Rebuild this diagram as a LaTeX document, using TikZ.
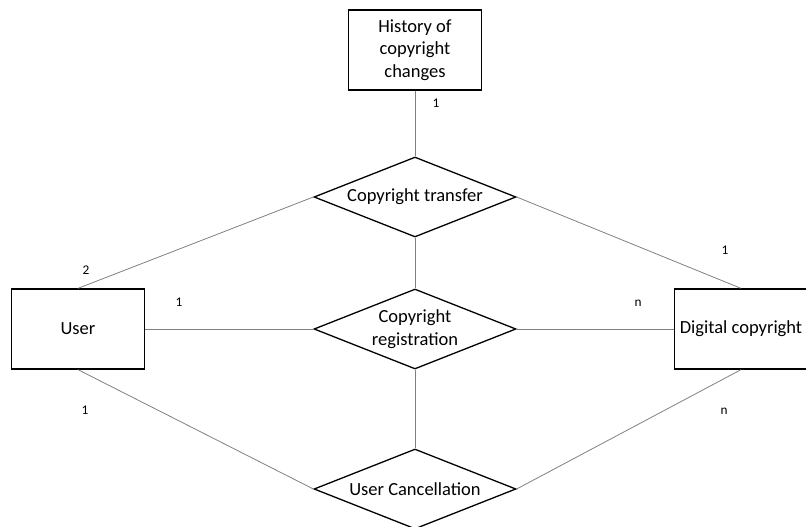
\documentclass[tikz,border=0pt]{standalone}
\usepackage{fontspec}
\setmainfont{Carlito}
\usetikzlibrary{shapes.geometric}

\begin{document}
\begin{tikzpicture}[x=1pt, y=-1pt,
  every node/.style={font=\fontsize{18.5}{22.5}\selectfont},
  entity/.style={draw, line width=1.3pt, minimum width=133pt,
                 minimum height=80pt, align=center, inner sep=2pt},
  relation/.style={draw, diamond, line width=1.3pt, aspect=2.5,
                   minimum width=202pt, minimum height=80pt,
                   align=center, inner sep=0pt},
  link/.style={draw=gray, line width=0.8pt},
  card/.style={font=\fontsize{13.3}{16}\selectfont, inner sep=0pt},
]
\useasboundingbox (0,0) rectangle (806,527);

%% ── Entities ───────────────────────────────────────────────────────────────
\node[entity] (hist) at (415, 50) {History of\\copyright\\changes};
\node[entity] (user) at (78, 329) {User};
\node[entity] (digi) at (741, 329) {Digital copyright};

%% ── Relationships ──────────────────────────────────────────────────────────
\node[relation] (trans) at (415, 197) {Copyright transfer};
\node[relation] (reg)   at (415, 329) {Copyright\\registration};
\node[relation] (canc)  at (415, 489) {User Cancellation};

%% ── Connectors ─────────────────────────────────────────────────────────────
\draw[link] (hist) -- (trans);
\draw[link] (trans) -- (reg);
\draw[link] (reg) -- (canc);
\draw[link] (user) -- (reg);
\draw[link] (reg) -- (digi);
\draw[link] (user.north) -- (trans.west);
\draw[link] (trans.east) -- (digi.north);
\draw[link] (user.south) -- (canc.west);
\draw[link] (canc.east) -- (digi.south);

%% ── Cardinalities ──────────────────────────────────────────────────────────
\node[card] (cHist)  at (436, 103) {1};
\node[card] (cUserT) at (86, 270)  {2};
\node[card] (cUserR) at (179, 302) {1};
\node[card] (cUserC) at (85, 410)  {1};
\node[card] (cDigiT) at (725, 250) {1};
\node[card] (cDigiR) at (638, 303) {n};
\node[card] (cDigiC) at (724, 411) {n};

\end{tikzpicture}
\end{document}
